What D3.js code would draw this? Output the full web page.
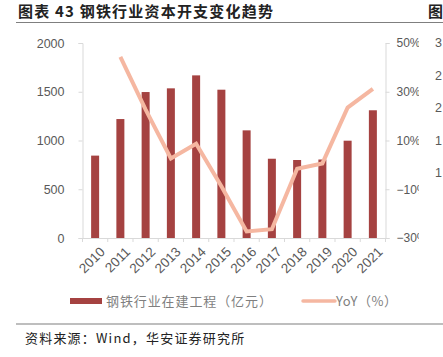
<!DOCTYPE html>
<html><head><meta charset="utf-8">
<script src="https://cdn.jsdelivr.net/npm/d3@7"></script>
<style>body{margin:0;background:#fff;} svg{display:block;}</style>
</head><body>
<script>
const years = ["2010","2011","2012","2013","2014","2015","2016","2017","2018","2019","2020","2021"];
const capex = [845,1220,1497,1535,1668,1521,1104,813,800,805,998,1310];
const yoy = [null,44.3,22.7,2.6,8.7,-8.8,-27.3,-26.4,-1.6,0.6,23.5,31.2];
const leftTicks = [0,500,1000,1500,2000];
const rightTicks = [-30,-10,10,30,50];
const nextChartTicks = ["3","2","2","1","1"];

const W=443,H=357;
const svg=d3.select("body").append("svg").attr("width",W).attr("height",H);
const cjk="'Noto Sans CJK SC','Noto Sans',sans-serif";
const lat="'Liberation Sans',Arial,sans-serif";

// title
svg.append("text").attr("x",18).attr("y",17).attr("font-family",cjk).attr("font-weight","bold")
  .attr("font-size",15).attr("letter-spacing",1.2).attr("fill","#222").text("图表 43  钢铁行业资本开支变化趋势");
svg.append("text").attr("x",428).attr("y",17).attr("font-family",cjk).attr("font-weight","bold")
  .attr("font-size",15).attr("fill","#222").text("图");
svg.append("line").attr("x1",16).attr("x2",443).attr("y1",22.5).attr("y2",22.5).attr("stroke","#7f7f7f").attr("stroke-width",1.2);

const x0=82.5,x1=385.5,yTop=43,yBot=238;
const x=d3.scaleBand().domain(years).range([x0,x1]);
const yL=d3.scaleLinear().domain([0,2000]).range([yBot,yTop]);
const yR=d3.scaleLinear().domain([-30,50]).range([yBot,yTop]);

const defs=svg.append("defs");
defs.append("clipPath").attr("id","c1r").append("rect").attr("x",0).attr("y",0).attr("width",419).attr("height",H);

const axisColor="#d9d9d9", tickText="#595959";
// left axis
const gL=svg.append("g").attr("transform",`translate(${x0},0)`).call(d3.axisLeft(yL).tickValues(leftTicks).tickSize(4).tickPadding(14).tickFormat(d3.format("d")));
// right axis (labels clipped at the panel edge, like the reference)
const gRwrap=svg.append("g").attr("clip-path","url(#c1r)");
const gR=gRwrap.append("g").attr("transform",`translate(${x1},0)`)
  .call(d3.axisRight(yR).tickValues(rightTicks).tickSize(4).tickPadding(7).tickFormat(d=>(d<0?"\u2212"+Math.abs(d):d)+"%"));
// bottom axis
const gB=svg.append("g").attr("transform",`translate(0,${yBot})`).call(d3.axisBottom(x).tickSize(0).tickFormat(""));
[gL,gR,gB].forEach(g=>{
  g.select(".domain").attr("stroke",axisColor);
  g.selectAll(".tick line").attr("stroke",axisColor);
  g.selectAll(".tick text").attr("fill",tickText).attr("font-family",lat).attr("font-size",12.5);
});
gR.selectAll(".tick text").attr("font-size",12);
// bottom boundary ticks
const bounds=years.map(d=>x(d)).concat([x1]);
svg.append("g").selectAll("line").data(bounds).join("line")
  .attr("x1",d=>d).attr("x2",d=>d).attr("y1",yBot).attr("y2",yBot+4).attr("stroke",axisColor);
// x labels rotated
svg.append("g").selectAll("text").data(years).join("text")
  .attr("transform",d=>`translate(${x(d)+x.bandwidth()/2+4},${yBot+8}) rotate(-45)`)
  .attr("text-anchor","end").attr("dy","0.7em").attr("font-family",lat).attr("font-size",13.5).attr("fill",tickText).text(d=>d);

// bars
const bw=8;
svg.append("g").selectAll("rect").data(capex).join("rect")
  .attr("x",(d,i)=>x(years[i])+x.bandwidth()/2-bw/2).attr("width",bw)
  .attr("y",d=>yL(d)).attr("height",d=>yBot-yL(d)).attr("fill","#a54241");

// line
const line=d3.line().defined(d=>d!=null).x((d,i)=>x(years[i])+x.bandwidth()/2).y(d=>yR(d));
svg.append("path").datum(yoy).attr("d",line).attr("fill","none").attr("stroke","#f5b7a1").attr("stroke-width",4);

// next chart partial labels
const nY=[43,75.5,108,140.5,173];
svg.append("g").selectAll("text").data(nextChartTicks).join("text")
  .attr("x",435).attr("y",(d,i)=>nY[i]).attr("dy","0.35em").attr("font-family",lat).attr("font-size",12.5).attr("fill",tickText).text(d=>d);

// legend
svg.append("rect").attr("x",70).attr("y",298).attr("width",32).attr("height",6).attr("fill","#a54241");
svg.append("text").attr("x",106).attr("y",306).attr("font-family",cjk).attr("font-size",13).attr("letter-spacing",0.9).attr("fill","#7f7f7f").text("钢铁行业在建工程（亿元）");
svg.append("line").attr("x1",303).attr("x2",335).attr("y1",301).attr("y2",301).attr("stroke","#f5b7a1").attr("stroke-width",3.5).attr("stroke-linecap","round");
svg.append("text").attr("x",336).attr("y",306).attr("font-family",cjk).attr("font-size",13).attr("letter-spacing",0.5).attr("fill","#7f7f7f").text("YoY（%）");

// source
svg.append("line").attr("x1",16).attr("x2",443).attr("y1",324).attr("y2",324).attr("stroke","#7f7f7f").attr("stroke-width",1.2);
svg.append("text").attr("x",25).attr("y",343).attr("font-family",cjk).attr("font-size",13).attr("letter-spacing",1.2).attr("fill","#222").text("资料来源：Wind，华安证券研究所");
</script>
</body></html>
